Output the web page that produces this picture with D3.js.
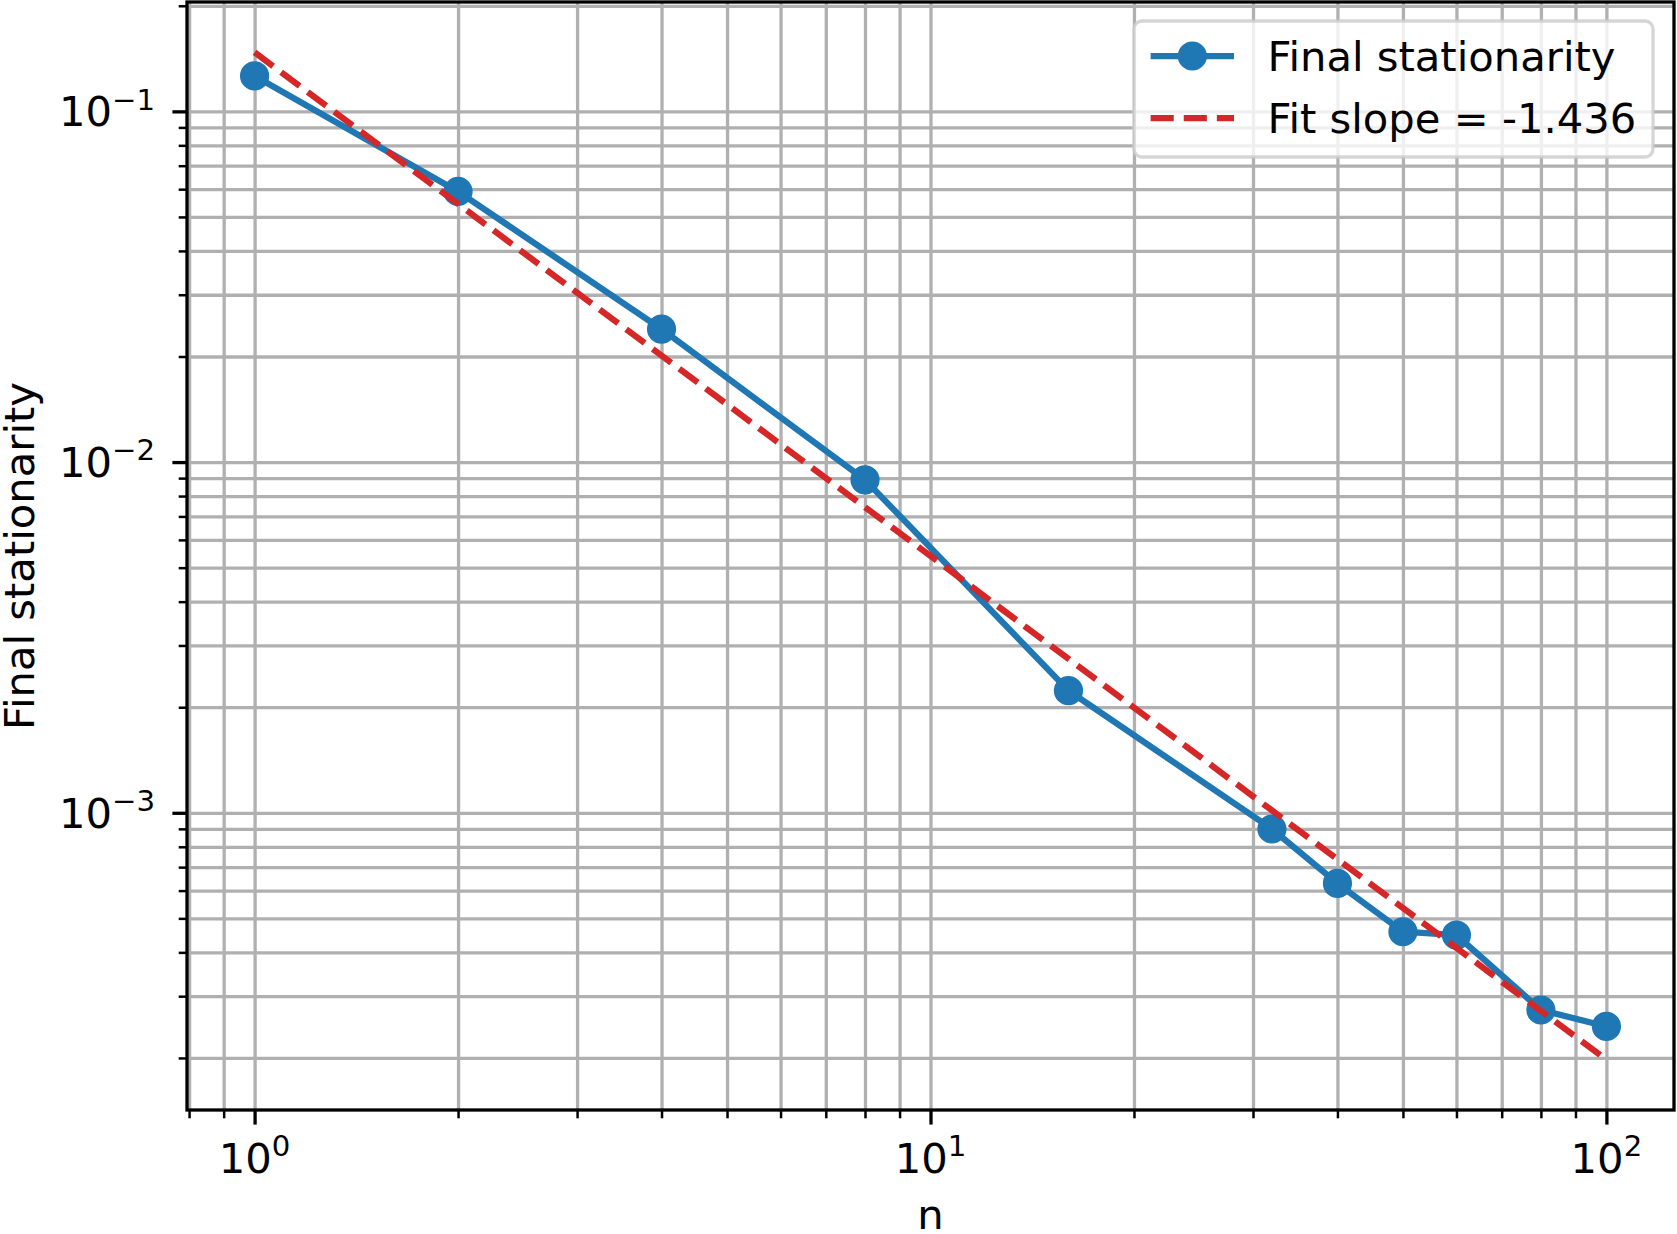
<!DOCTYPE html>
<html>
<head>
<title>Final stationarity vs n</title>
<script src="https://d3js.org/d3.v7.min.js"></script>

<style type="text/css">
body {
  margin: 0;
  background: white;
}
svg text {
  font-family: "DejaVu Sans", sans-serif;
  fill: black;
}
.grid line {
  stroke: #b0b0b0;
  stroke-width: 3.3px;
}
.grid path, .ticks path {
  display: none;
}
.ticks.major line {
  stroke: black;
  stroke-width: 3.3px;
}
.ticks.minor line {
  stroke: black;
  stroke-width: 2.5px;
}
</style>

<script type="text/javascript">

// measured values
var nValues = [1, 2, 4, 8, 16, 32, 40, 50, 60, 80, 100];
var stationarity = [0.1262, 0.0591, 0.02394, 0.00890, 0.00223, 0.000899, 0.000629, 0.000458, 0.000448, 0.000274, 0.000246];

// power-law fit shown as dashed line
var fitSlope = -1.436;
var fitAtOne = 0.1473;
var fitRange = [1, 100];

var xMajorTicks = [1, 10, 100];
var xTickExponents = ["0", "1", "2"];
var yMajorTicks = [0.1, 0.01, 0.001];
var yTickExponents = ["\u22121", "\u22122", "\u22123"];

var seriesLabel = "Final stationarity";
var fitLabel = "Fit slope = -1.436";
var xAxisLabel = "n";
var yAxisLabel = "Final stationarity";

var W = 1677, H = 1234;
// plot area (window.top is reserved, so use other names)
var plotLeft = 187, plotRight = 1674, plotTop = 2, plotBottom = 1110;
var fontSize = 41.7;

function logMargin(lo, hi) {
  // matplotlib style 5% margins in log space
  var a = Math.log10(lo), b = Math.log10(hi), m = (b - a) * 0.05;
  return [Math.pow(10, a - m), Math.pow(10, b + m)];
}

function minorTicks(domain) {
  var out = [];
  var e0 = Math.floor(Math.log10(domain[0])), e1 = Math.ceil(Math.log10(domain[1]));
  for (var e = e0; e <= e1; e++) {
    for (var k = 2; k <= 9; k++) {
      var v = k * Math.pow(10, e);
      if (v >= domain[0] && v <= domain[1]) out.push(v);
    }
  }
  return out;
}

function drawChart() {
  var fitData = fitRange.map(function(n) {
    return {n: n, v: fitAtOne * Math.pow(n, fitSlope)};
  });
  var points = nValues.map(function(n, i) {
    return {n: n, v: stationarity[i]};
  });

  var allY = stationarity.concat(fitData.map(function(d) { return d.v; }));
  var xDomain = logMargin(d3.min(nValues), d3.max(nValues));
  var yDomain = logMargin(d3.min(allY), d3.max(allY));

  var x = d3.scaleLog().domain(xDomain).range([plotLeft, plotRight]);
  var y = d3.scaleLog().domain(yDomain).range([plotBottom, plotTop]);

  var xMinor = minorTicks(xDomain);
  var yMinor = minorTicks(yDomain);

  var svg = d3.select("body")
              .append("svg")
              .attr("width", W)
              .attr("height", H);

  svg.append("rect")
     .attr("width", W)
     .attr("height", H)
     .attr("fill", "white");

  // grid (major + minor)
  svg.append("g")
     .attr("class", "grid")
     .attr("transform", "translate(0," + plotBottom + ")")
     .call(d3.axisBottom(x).tickValues(xMajorTicks.concat(xMinor)).tickSize(-(plotBottom - plotTop)).tickFormat(""));

  svg.append("g")
     .attr("class", "grid")
     .attr("transform", "translate(" + plotLeft + ",0)")
     .call(d3.axisLeft(y).tickValues(yMajorTicks.concat(yMinor)).tickSize(-(plotRight - plotLeft)).tickFormat(""));

  // data line
  var line = d3.line()
               .x(function(d) { return x(d.n); })
               .y(function(d) { return y(d.v); });

  svg.append("path")
     .datum(points)
     .attr("d", line)
     .attr("fill", "none")
     .attr("stroke", "#1f77b4")
     .attr("stroke-width", 6.25)
     .attr("stroke-linejoin", "round")
     .attr("stroke-linecap", "square");

  svg.selectAll("circle.pt")
     .data(points)
     .enter()
     .append("circle")
     .attr("class", "pt")
     .attr("cx", function(d) { return x(d.n); })
     .attr("cy", function(d) { return y(d.v); })
     .attr("r", 12.5)
     .attr("fill", "#1f77b4")
     .attr("stroke", "#1f77b4")
     .attr("stroke-width", 4.2);

  // fit line
  svg.append("path")
     .datum(fitData)
     .attr("d", line)
     .attr("fill", "none")
     .attr("stroke", "#d62728")
     .attr("stroke-width", 6.25)
     .attr("stroke-dasharray", "23.1,10");

  // ticks
  svg.append("g")
     .attr("class", "ticks minor")
     .attr("transform", "translate(0," + plotBottom + ")")
     .call(d3.axisBottom(x).tickValues(xMinor).tickSize(8.3).tickFormat(""));
  svg.append("g")
     .attr("class", "ticks major")
     .attr("transform", "translate(0," + plotBottom + ")")
     .call(d3.axisBottom(x).tickValues(xMajorTicks).tickSize(14.6).tickFormat(""));
  svg.append("g")
     .attr("class", "ticks minor")
     .attr("transform", "translate(" + plotLeft + ",0)")
     .call(d3.axisLeft(y).tickValues(yMinor).tickSize(8.3).tickFormat(""));
  svg.append("g")
     .attr("class", "ticks major")
     .attr("transform", "translate(" + plotLeft + ",0)")
     .call(d3.axisLeft(y).tickValues(yMajorTicks).tickSize(14.6).tickFormat(""));

  // spines
  svg.append("rect")
     .attr("x", plotLeft)
     .attr("y", plotTop)
     .attr("width", plotRight - plotLeft)
     .attr("height", plotBottom - plotTop)
     .attr("fill", "none")
     .attr("stroke", "black")
     .attr("stroke-width", 3.3);

  // tick labels with superscripts
  var xl = svg.selectAll("text.xtick")
              .data(xMajorTicks)
              .enter()
              .append("text")
              .attr("class", "xtick")
              .attr("x", function(d) { return x(d); })
              .attr("y", 1173)
              .attr("text-anchor", "middle")
              .style("font-size", fontSize + "px");
  xl.append("tspan").text("10");
  xl.append("tspan")
    .attr("dy", -16.6)
    .style("font-size", (fontSize * 0.7) + "px")
    .text(function(d, i) { return xTickExponents[i]; });

  var yl = svg.selectAll("text.ytick")
              .data(yMajorTicks)
              .enter()
              .append("text")
              .attr("class", "ytick")
              .attr("x", 155)
              .attr("y", function(d) { return y(d) + 15; })
              .attr("text-anchor", "end")
              .style("font-size", fontSize + "px");
  yl.append("tspan").text("10");
  yl.append("tspan")
    .attr("dy", -16.6)
    .style("font-size", (fontSize * 0.7) + "px")
    .text(function(d, i) { return yTickExponents[i]; });

  // axis labels
  svg.append("text")
     .attr("x", (plotLeft + plotRight) / 2)
     .attr("y", 1229)
     .attr("text-anchor", "middle")
     .style("font-size", fontSize + "px")
     .text(xAxisLabel);

  svg.append("text")
     .attr("transform", "translate(34," + ((plotTop + plotBottom) / 2) + ") rotate(-90)")
     .attr("text-anchor", "middle")
     .style("font-size", fontSize + "px")
     .text(yAxisLabel);

  // legend
  var lg = svg.append("g");
  var boxRight = 1653, boxTop = 21, boxBottom = 157;
  var row1 = 56, row2 = 118;
  var frame = lg.append("rect");
  var t1 = lg.append("text")
             .attr("y", row1 + 15)
             .style("font-size", fontSize + "px")
             .text(seriesLabel);
  var t2 = lg.append("text")
             .attr("y", row2 + 15)
             .style("font-size", fontSize + "px")
             .text(fitLabel);
  var textW = Math.max(t1.node().getComputedTextLength(), t2.node().getComputedTextLength());
  var boxLeft = boxRight - (16.7 + 83.4 + 33.4 + textW + 16.7);
  var textX = boxRight - 16.7 - textW;
  t1.attr("x", textX);
  t2.attr("x", textX);
  frame.attr("x", boxLeft)
       .attr("y", boxTop)
       .attr("width", boxRight - boxLeft)
       .attr("height", boxBottom - boxTop)
       .attr("rx", 8)
       .attr("fill", "white")
       .attr("fill-opacity", 0.8)
       .attr("stroke", "#cccccc")
       .attr("stroke-opacity", 0.8)
       .attr("stroke-width", 3.3);

  var hx0 = boxLeft + 16.7, hx1 = hx0 + 83.4;
  lg.append("line")
    .attr("x1", hx0).attr("x2", hx1)
    .attr("y1", row1).attr("y2", row1)
    .attr("stroke", "#1f77b4")
    .attr("stroke-width", 6.25);
  lg.append("circle")
    .attr("cx", (hx0 + hx1) / 2)
    .attr("cy", row1)
    .attr("r", 12.5)
    .attr("fill", "#1f77b4")
    .attr("stroke", "#1f77b4")
    .attr("stroke-width", 4.2);
  lg.append("line")
    .attr("x1", hx0).attr("x2", hx1)
    .attr("y1", row2).attr("y2", row2)
    .attr("stroke", "#d62728")
    .attr("stroke-width", 6.25)
    .attr("stroke-dasharray", "23.1,10");
}

window.onload = drawChart;

</script>
</head>

<body>
</body>
</html>
